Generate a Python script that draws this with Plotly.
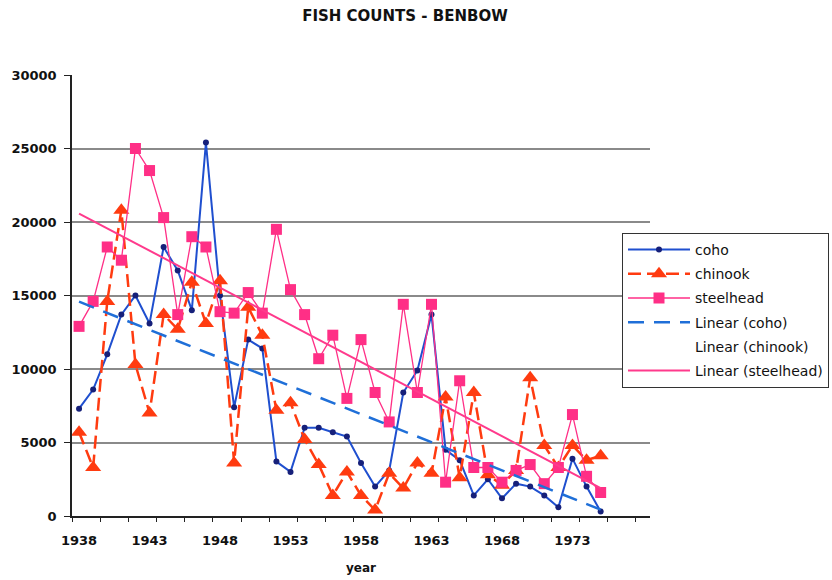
import numpy as np
import plotly.graph_objects as go

# Annual fish counts at Benbow, 1938-1975
years = list(range(1938, 1976))

coho = [7300, 8600, 11000, 13700, 15000, 13100, 18300, 16700, 14000, 25400,
        15000, 7400, 12000, 11400, 3700, 3000, 6000, 6000, 5700, 5400,
        3600, 2000, 3100, 8400, 9900, 13700, 4500, 3800, 1400, 2500,
        1200, 2200, 2000, 1400, 600, 3900, 2000, 300]

chinook = [5700, 3300, 14600, 20800, 10300, 7000, 13700, 12700, 15900, 13100,
           16000, 3600, 14200, 12300, 7200, 7700, 5200, 3500, 1400, 3000,
           1400, 400, 2900, 1900, 3600, 2900, 8100, 2600, 8400, 2800,
           2100, 3100, 9400, 4800, 3300, 4800, 3800, 4100]

steelhead = [12900, 14600, 18300, 17400, 25000, 23500, 20300, 13700, 19000, 18300,
             13900, 13800, 15200, 13800, 19500, 15400, 13700, 10700, 12300, 8000,
             12000, 8400, 6400, 14400, 8400, 14400, 2300, 9200, 3300, 3300,
             2300, 3100, 3500, 2200, 3300, 6900, 2700, 1600]

year_labels = [1938, 1943, 1948, 1953, 1958, 1963, 1968, 1973]
y_ticks = [0, 5000, 10000, 15000, 20000, 25000, 30000]

x = np.array(years, dtype=float)


def linear_trend(values):
    slope, intercept = np.polyfit(x, np.array(values, dtype=float), 1)
    return slope * x + intercept


C_COHO = "#1f4fcf"
C_COHO_MK = "#16207a"
C_CHIN = "#ff3b10"
C_STEEL = "#ff2f86"
C_COHO_TR = "#1f6fd8"
C_STEEL_TR = "#ff3a8c"

fig = go.Figure()

fig.add_trace(go.Scatter(
    x=years, y=coho, name="coho", mode="lines+markers", legendgroup="a",
    line=dict(color=C_COHO, width=2),
    marker=dict(symbol="circle", size=6, color=C_COHO_MK),
))
fig.add_trace(go.Scatter(
    x=years, y=chinook, name="chinook", mode="lines+markers", legendgroup="b",
    line=dict(color=C_CHIN, width=2.5, dash="13px,6px"),
    marker=dict(symbol="triangle-up", size=14, color=C_CHIN),
))
fig.add_trace(go.Scatter(
    x=years, y=steelhead, name="steelhead", mode="lines+markers", legendgroup="c",
    line=dict(color=C_STEEL, width=1.3),
    marker=dict(symbol="square", size=11, color=C_STEEL),
))
fig.add_trace(go.Scatter(
    x=years, y=linear_trend(coho), name="Linear (coho)", mode="lines", legendgroup="d",
    line=dict(color=C_COHO_TR, width=2.5, dash="16px,10px"),
))
fig.add_trace(go.Scatter(
    x=years, y=linear_trend(chinook), name="Linear (chinook)", mode="lines", legendgroup="e",
    line=dict(color="rgba(0,0,0,0)", width=0),
))
fig.add_trace(go.Scatter(
    x=years, y=linear_trend(steelhead), name="Linear (steelhead)", mode="lines", legendgroup="f",
    line=dict(color=C_STEEL_TR, width=2),
))

fig.update_layout(
    width=832, height=580,
    margin=dict(l=72, r=182, t=75, b=64, autoexpand=False),
    paper_bgcolor="white", plot_bgcolor="white",
    font=dict(family="DejaVu Sans", size=12, color="#111"),
    title=dict(text="<b>FISH COUNTS - BENBOW</b>", x=405 / 832, xanchor="center",
               y=1 - 16 / 580, yanchor="middle",
               font=dict(family="DejaVu Sans", size=15, color="#111")),
    showlegend=True,
    legend=dict(x=(622 - 72) / 578, xanchor="left", y=(516 - 233) / 441, yanchor="top",
                bgcolor="white", bordercolor="#333", borderwidth=1,
                font=dict(family="DejaVu Sans", size=14, color="#111"),
                traceorder="grouped", tracegroupgap=3, itemwidth=62),
)

fig.update_xaxes(
    range=[1937.5, 1978.5], showgrid=False, zeroline=False,
    showline=True, linecolor="#222", linewidth=1.5,
    tickmode="array", tickvals=year_labels, ticktext=[str(v) for v in year_labels],
    ticks="outside", ticklen=12, tickcolor="rgba(0,0,0,0)",
    tickfont=dict(family="DejaVu Sans", size=13, color="#111", weight="bold"),
    minor=dict(tickmode="linear", tick0=1937.5, dtick=2, ticks="outside",
               ticklen=4, tickcolor="#222", showgrid=False),
    title=dict(text="<b>year</b>", standoff=16,
               font=dict(family="DejaVu Sans", size=12, color="#111")),
)

fig.update_yaxes(
    range=[0, 30000], tickmode="array", tickvals=y_ticks,
    ticktext=[str(v) for v in y_ticks],
    showgrid=True, gridcolor="#8a8a8a", gridwidth=1.5, zeroline=False,
    showline=True, linecolor="#222", linewidth=1.5,
    ticks="outside", ticklen=6, tickcolor="#222", ticklabelstandoff=5,
    tickfont=dict(family="DejaVu Sans", size=13, color="#111", weight="bold"),
)

fig.write_html("out.html")
